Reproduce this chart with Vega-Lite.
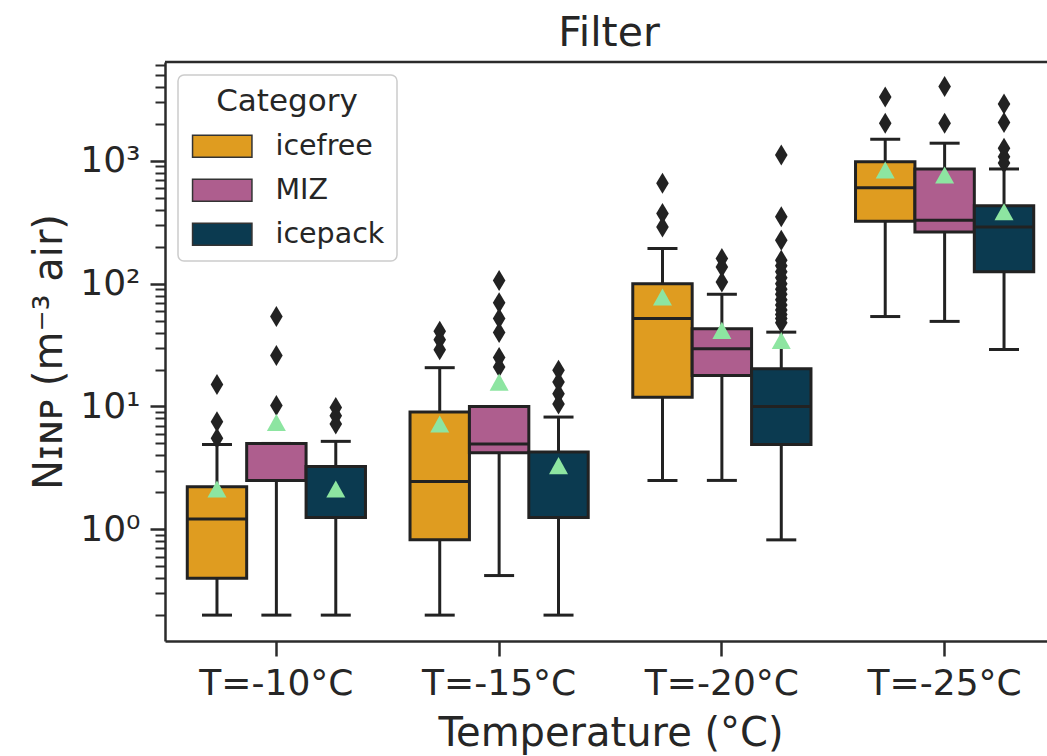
{
  "$schema": "https://vega.github.io/schema/vega-lite/v6.json",
  "autosize": {"type": "none"},
  "padding": {"left": 165, "top": 62, "right": 0, "bottom": 115},
  "width": 882,
  "height": 579,
  "title": {"text": "Filter", "fontSize": 41, "fontWeight": "normal", "color": "#262626", "offset": -8, "anchor": "middle", "dx": 3},
  "config": {
    "font": "DejaVu Sans",
    "view": {"stroke": null},
    "axis": {"grid": false, "domainColor": "#2b2b2b", "domainWidth": 2.5, "tickColor": "#2b2b2b", "labelColor": "#262626", "titleColor": "#262626", "titleFontWeight": "normal"},
    "legend": {
      "orient": "top-left", "offset": 13, "padding": 12,
      "fillColor": "rgba(255,255,255,0.8)", "strokeColor": "#cccccc", "cornerRadius": 6, "strokeWidth": 1.5,
      "titleFontSize": 31, "titleFontWeight": "normal", "titleColor": "#262626", "titleAnchor": "middle", "titlePadding": 14,
      "labelFontSize": 28.5, "labelColor": "#262626", "labelOffset": 39,
      "symbolType": "M-2.7,-1L2.7,-1L2.7,1L-2.7,1Z", "symbolSize": 484, "symbolOffset": 18,
      "symbolStrokeColor": "#333333", "symbolStrokeWidth": 1.5, "rowPadding": 15
    }
  },
  "datasets": {
    "boxes": [
      {"T": "T=-10°C", "cat": "icefree", "q1": 0.40, "med": 1.21, "q3": 2.22, "lo": 0.2, "hi": 4.9, "mean": 2.13},
      {"T": "T=-10°C", "cat": "MIZ", "q1": 2.5, "med": 2.5, "q3": 5.0, "lo": 0.2, "hi": 5.0, "mean": 7.4},
      {"T": "T=-10°C", "cat": "icepack", "q1": 1.25, "med": 1.25, "q3": 3.25, "lo": 0.2, "hi": 5.2, "mean": 2.13},
      {"T": "T=-15°C", "cat": "icefree", "q1": 0.82, "med": 2.45, "q3": 9.0, "lo": 0.2, "hi": 20.7, "mean": 7.2},
      {"T": "T=-15°C", "cat": "MIZ", "q1": 4.2, "med": 4.95, "q3": 10.0, "lo": 0.42, "hi": 10.0, "mean": 15.8},
      {"T": "T=-15°C", "cat": "icepack", "q1": 1.25, "med": 1.25, "q3": 4.25, "lo": 0.2, "hi": 8.2, "mean": 3.3},
      {"T": "T=-20°C", "cat": "icefree", "q1": 11.9, "med": 52, "q3": 100, "lo": 2.5, "hi": 193, "mean": 78},
      {"T": "T=-20°C", "cat": "MIZ", "q1": 17.9, "med": 29.5, "q3": 43, "lo": 2.5, "hi": 82, "mean": 41.7},
      {"T": "T=-20°C", "cat": "icepack", "q1": 4.9, "med": 10, "q3": 20.3, "lo": 0.82, "hi": 40.3, "mean": 34.5},
      {"T": "T=-25°C", "cat": "icefree", "q1": 323, "med": 604, "q3": 985, "lo": 54, "hi": 1500, "mean": 843},
      {"T": "T=-25°C", "cat": "MIZ", "q1": 264, "med": 329, "q3": 859, "lo": 49.3, "hi": 1393, "mean": 767},
      {"T": "T=-25°C", "cat": "icepack", "q1": 125, "med": 290, "q3": 431, "lo": 29.1, "hi": 859, "mean": 385}
    ],
    "outliers": [
      {"T": "T=-10°C", "cat": "icefree", "v": 15.1},
      {"T": "T=-10°C", "cat": "icefree", "v": 7.5},
      {"T": "T=-10°C", "cat": "icefree", "v": 5.5},
      {"T": "T=-10°C", "cat": "MIZ", "v": 54},
      {"T": "T=-10°C", "cat": "MIZ", "v": 26},
      {"T": "T=-10°C", "cat": "MIZ", "v": 10.2},
      {"T": "T=-10°C", "cat": "icepack", "v": 9.8},
      {"T": "T=-10°C", "cat": "icepack", "v": 8.4},
      {"T": "T=-10°C", "cat": "icepack", "v": 7.2},
      {"T": "T=-15°C", "cat": "icefree", "v": 41},
      {"T": "T=-15°C", "cat": "icefree", "v": 35},
      {"T": "T=-15°C", "cat": "icefree", "v": 29},
      {"T": "T=-15°C", "cat": "MIZ", "v": 106},
      {"T": "T=-15°C", "cat": "MIZ", "v": 70},
      {"T": "T=-15°C", "cat": "MIZ", "v": 52},
      {"T": "T=-15°C", "cat": "MIZ", "v": 40},
      {"T": "T=-15°C", "cat": "MIZ", "v": 25},
      {"T": "T=-15°C", "cat": "MIZ", "v": 21},
      {"T": "T=-15°C", "cat": "icepack", "v": 19.7},
      {"T": "T=-15°C", "cat": "icepack", "v": 15.8},
      {"T": "T=-15°C", "cat": "icepack", "v": 12.7},
      {"T": "T=-15°C", "cat": "icepack", "v": 10.5},
      {"T": "T=-20°C", "cat": "icefree", "v": 656},
      {"T": "T=-20°C", "cat": "icefree", "v": 373},
      {"T": "T=-20°C", "cat": "icefree", "v": 290},
      {"T": "T=-20°C", "cat": "MIZ", "v": 160},
      {"T": "T=-20°C", "cat": "MIZ", "v": 137},
      {"T": "T=-20°C", "cat": "MIZ", "v": 103},
      {"T": "T=-20°C", "cat": "icepack", "v": 1117},
      {"T": "T=-20°C", "cat": "icepack", "v": 350},
      {"T": "T=-20°C", "cat": "icepack", "v": 226},
      {"T": "T=-20°C", "cat": "icepack", "v": 155},
      {"T": "T=-20°C", "cat": "icepack", "v": 140},
      {"T": "T=-20°C", "cat": "icepack", "v": 125},
      {"T": "T=-20°C", "cat": "icepack", "v": 112},
      {"T": "T=-20°C", "cat": "icepack", "v": 100},
      {"T": "T=-20°C", "cat": "icepack", "v": 90},
      {"T": "T=-20°C", "cat": "icepack", "v": 82},
      {"T": "T=-20°C", "cat": "icepack", "v": 74},
      {"T": "T=-20°C", "cat": "icepack", "v": 67},
      {"T": "T=-20°C", "cat": "icepack", "v": 61},
      {"T": "T=-20°C", "cat": "icepack", "v": 56},
      {"T": "T=-20°C", "cat": "icepack", "v": 52},
      {"T": "T=-20°C", "cat": "icepack", "v": 48},
      {"T": "T=-25°C", "cat": "icefree", "v": 3305},
      {"T": "T=-25°C", "cat": "icefree", "v": 2028},
      {"T": "T=-25°C", "cat": "MIZ", "v": 4034},
      {"T": "T=-25°C", "cat": "MIZ", "v": 2028},
      {"T": "T=-25°C", "cat": "icepack", "v": 2900},
      {"T": "T=-25°C", "cat": "icepack", "v": 2050},
      {"T": "T=-25°C", "cat": "icepack", "v": 1270},
      {"T": "T=-25°C", "cat": "icepack", "v": 1080},
      {"T": "T=-25°C", "cat": "icepack", "v": 960}
    ]
  },
  "encoding": {
    "x": {
      "field": "T", "type": "nominal",
      "sort": ["T=-10°C", "T=-15°C", "T=-20°C", "T=-25°C"],
      "scale": {"paddingInner": 0, "paddingOuter": 0, "range": [0, 891]},
      "title": "Temperature (°C)",
      "axis": {"labelAngle": 0, "labelFontSize": 36, "labelPadding": 10, "tickSize": 15, "tickWidth": 2.5, "titleFontSize": 40, "titlePadding": 12}
    },
    "xOffset": {
      "field": "cat", "type": "nominal",
      "sort": ["icefree", "MIZ", "icepack"],
      "scale": {"paddingInner": 0, "paddingOuter": 0.375}
    }
  },
  "layer": [
    {
      "data": {"name": "boxes"},
      "mark": {"type": "rule", "color": "#222222", "strokeWidth": 3},
      "encoding": {
        "y": {"field": "lo", "type": "quantitative", "scale": {"type": "log", "domain": [0.1231, 6385], "nice": false},
          "title": "Nɪɴᴘ (m⁻³ air)",
          "axis": {
            "values": [0.2, 0.3, 0.4, 0.5, 0.6, 0.7, 0.8, 0.9, 1, 2, 3, 4, 5, 6, 7, 8, 9, 10, 20, 30, 40, 50, 60, 70, 80, 90, 100, 200, 300, 400, 500, 600, 700, 800, 900, 1000, 2000, 3000, 4000, 5000, 6000],
            "labelExpr": "datum.value == 1 ? '10⁰' : datum.value == 10 ? '10¹' : datum.value == 100 ? '10²' : datum.value == 1000 ? '10³' : ''",
            "labelOverlap": false, "labelFontSize": 36, "labelPadding": 10,
            "tickSize": {"condition": {"test": "indexof([1, 10, 100, 1000], datum.value) >= 0", "value": 15}, "value": 10},
            "tickWidth": {"condition": {"test": "indexof([1, 10, 100, 1000], datum.value) >= 0", "value": 2.5}, "value": 2},
            "titleFontSize": 40, "titlePadding": 10
          }
        },
        "y2": {"field": "q1"}
      }
    },
    {
      "data": {"name": "boxes"},
      "mark": {"type": "rule", "color": "#222222", "strokeWidth": 3},
      "encoding": {"y": {"field": "q3", "type": "quantitative"}, "y2": {"field": "hi"}}
    },
    {
      "data": {"name": "boxes"},
      "mark": {"type": "tick", "color": "#222222", "opacity": 1, "size": 30, "thickness": 3, "orient": "horizontal"},
      "encoding": {"y": {"field": "lo", "type": "quantitative"}}
    },
    {
      "data": {"name": "boxes"},
      "mark": {"type": "tick", "color": "#222222", "opacity": 1, "size": 30, "thickness": 3, "orient": "horizontal"},
      "encoding": {"y": {"field": "hi", "type": "quantitative"}}
    },
    {
      "data": {"name": "boxes"},
      "mark": {"type": "bar", "stroke": "#222222", "strokeWidth": 3, "opacity": 1},
      "encoding": {
        "y": {"field": "q1", "type": "quantitative"},
        "y2": {"field": "q3"},
        "fill": {"field": "cat", "type": "nominal", "title": "Category",
          "scale": {"domain": ["icefree", "MIZ", "icepack"], "range": ["#df9c20", "#ae5e8e", "#0b3a50"]},
          "legend": {"symbolStrokeColor": "#333333", "symbolStrokeWidth": 1.5, "symbolOpacity": 1}
        }
      }
    },
    {
      "data": {"name": "boxes"},
      "mark": {"type": "tick", "color": "#222222", "opacity": 1, "size": 59, "thickness": 3, "orient": "horizontal"},
      "encoding": {"y": {"field": "med", "type": "quantitative"}}
    },
    {
      "data": {"name": "outliers"},
      "mark": {"type": "point", "filled": true, "fill": "#222222", "opacity": 1, "shape": "M0,-1L0.6,0L0,1L-0.6,0Z", "size": 441, "strokeWidth": 0},
      "encoding": {"y": {"field": "v", "type": "quantitative"}}
    },
    {
      "data": {"name": "boxes"},
      "mark": {"type": "point", "filled": true, "fill": "#8de5a1", "opacity": 1, "shape": "M0,-0.9L1,0.9L-1,0.9Z", "size": 361, "strokeWidth": 0},
      "encoding": {"y": {"field": "mean", "type": "quantitative"}}
    },
    {
      "data": {"values": [{}]},
      "mark": {"type": "rule", "color": "#2b2b2b", "strokeWidth": 2.5},
      "encoding": {"y": {"datum": 6385, "type": "quantitative"}, "x": null, "xOffset": null}
    }
  ]
}
